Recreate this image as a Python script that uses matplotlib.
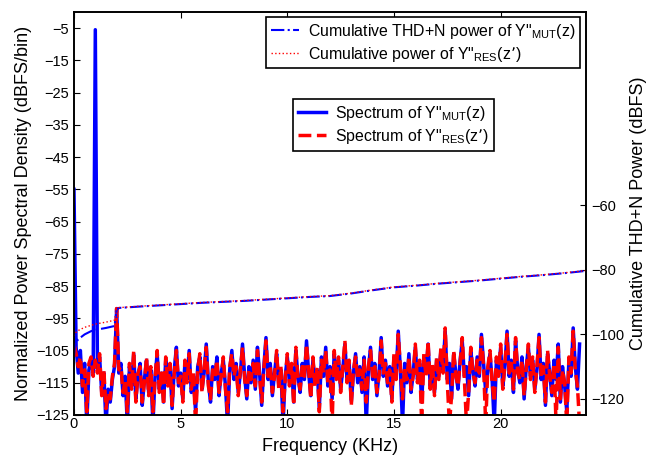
import matplotlib
matplotlib.use("Agg")
import matplotlib.pyplot as plt
import numpy as np

plt.rcParams['font.family'] = ['Liberation Sans', 'DejaVu Sans']
plt.rcParams['mathtext.default'] = 'regular'

# frequency bins (kHz), 0.1 kHz spacing
freq = np.round(np.arange(238) * 0.1, 1)

# spectrum of Y"_MUT(z), dBFS/bin
spec_mut = [
    -55, -104, -112, -105, -118, -109, -128, -111, -108, -112,
    -5.5, -111, -107, -118, -112, -128, -117, -121, -114, -110,
    -92, -112, -109, -119, -113, -128, -110, -116, -106, -120,
    -113, -109, -122, -114, -108, -118, -111, -128, -113, -106,
    -117, -112, -121, -108, -115, -110, -123, -111, -104, -116,
    -112, -120, -109, -114, -105, -118, -113, -124, -110, -107,
    -117, -112, -103, -115, -121, -110, -114, -107, -119, -112,
    -108, -116, -128, -111, -105, -114, -109, -118, -112, -103,
    -113, -120, -110, -115, -108, -117, -104, -112, -122, -110,
    -101, -114, -109, -119, -112, -106, -116, -111, -128, -113,
    -107, -115, -110, -121, -105, -113, -118, -109, -114, -102,
    -112, -119, -108, -115, -111, -123, -107, -113, -104, -116,
    -110, -120, -106, -113, -108, -117, -111, -103, -114, -109,
    -121, -112, -106, -115, -110, -118, -107, -128, -111, -104,
    -114, -109, -119, -112, -101, -113, -108, -116, -110, -120,
    -107, -113, -99, -111, -128, -109, -115, -106, -118, -112,
    -104, -114, -109, -121, -107, -112, -103, -116, -110, -118,
    -108, -113, -105, -111, -99, -114, -109, -120, -106, -112,
    -117, -108, -102, -113, -110, -119, -105, -111, -116, -107,
    -113, -100, -109, -118, -111, -106, -114, -128, -108, -112,
    -104, -116, -110, -99, -113, -108, -118, -102, -111, -115,
    -107, -120, -110, -104, -113, -108, -117, -111, -100, -114,
    -109, -122, -106, -112, -119, -108, -114, -103, -121, -110,
    -116, -124, -108, -113, -98, -110, -117, -103,
]

# spectrum of Y"_RES(z'), dBFS/bin
spec_res = [
    -103, -106, -110, -107, -116, -111, -124, -109, -107, -113,
    -108, -112, -106, -119, -111, -123, -118, -120, -113, -109,
    -92, -111, -110, -118, -114, -124, -109, -117, -105, -121,
    -112, -110, -121, -115, -107, -119, -110, -124, -114, -105,
    -118, -111, -122, -107, -116, -109, -122, -112, -105, -115,
    -113, -121, -108, -115, -106, -117, -112, -128, -111, -106,
    -118, -111, -104, -116, -120, -111, -113, -108, -118, -113,
    -107, -117, -124, -110, -106, -113, -110, -119, -111, -104,
    -114, -119, -111, -114, -109, -116, -105, -113, -121, -111,
    -102, -113, -110, -118, -113, -105, -117, -110, -124, -114,
    -106, -116, -109, -122, -104, -114, -117, -110, -113, -103,
    -111, -120, -107, -116, -110, -124, -108, -112, -105, -115,
    -111, -128, -105, -114, -107, -118, -110, -102, -115, -108,
    -122, -111, -107, -114, -111, -117, -108, -121, -110, -105,
    -113, -110, -118, -113, -102, -112, -109, -115, -111, -121,
    -106, -114, -100, -110, -120, -110, -114, -107, -117, -113,
    -103, -115, -108, -128, -106, -113, -102, -117, -109, -119,
    -107, -114, -104, -112, -98, -115, -128, -119, -105, -113,
    -116, -109, -101, -114, -128, -118, -104, -112, -115, -108,
    -112, -101, -110, -128, -110, -105, -115, -121, -107, -113,
    -103, -117, -109, -100, -112, -109, -117, -101, -112, -114,
    -108, -119, -111, -103, -114, -107, -118, -110, -101, -113,
    -110, -121, -105, -113, -118, -109, -128, -104, -120, -111,
    -115, -128, -107, -112, -99, -111, -116, -128,
]

# cumulative THD+N power (dBFS)
cum_freq = [0.0, 0.05, 0.2, 0.5, 0.8, 1.0, 1.5, 1.9, 2.0, 2.1, 3, 4, 5, 6, 7, 8,
            9, 10, 11, 12, 13, 14, 15, 16, 17, 18, 19, 20, 21, 22, 23, 24]
cum_mut = [-107, -103, -101.5, -100, -99, -98.6, -98, -97.4, -92.5, -91.8, -91.4,
           -91, -90.6, -90.2, -89.9, -89.6, -89.2, -88.8, -88.4, -88.1, -87.3,
           -86.3, -85.4, -84.9, -84.3, -83.8, -83.3, -82.7, -82.1, -81.6, -81.0,
           -80.3]
cum_res = [-100.5, -99.6, -98.8, -97.8, -97.2, -96.8, -96.2, -95.6, -92.2, -91.7,
           -91.3, -90.9, -90.5, -90.1, -89.8, -89.5, -89.1, -88.7, -88.3, -88.0,
           -87.2, -86.2, -85.3, -84.8, -84.2, -83.7, -83.2, -82.6, -82.0, -81.5,
           -80.9, -80.2]

fig = plt.figure(figsize=(6.57, 4.61), dpi=100)
ax = fig.add_axes([0.1126, 0.0998, 0.7793, 0.8742])

l1, = ax.plot(freq, spec_mut, color='blue', lw=2.5)
l2, = ax.plot(freq, spec_res, color='red', lw=2.5, ls='--')
ax.set_xlim(0, 24)
ax.set_ylim(-125, 0)
ax.set_xticks([0, 5, 10, 15, 20])
ax.set_yticks(np.arange(-125, 0, 10))
ax.tick_params(direction='in', top=True, right=True, labelsize=10.5, length=4)
ax.tick_params(axis='x', pad=1.5)
ax.set_xlabel('Frequency (KHz)', fontsize=13, labelpad=5)
ax.set_ylabel('Normalized Power Spectral Density (dBFS/bin)', fontsize=13, labelpad=3)

ax2 = ax.twinx()
l3, = ax2.plot(cum_freq, cum_mut, color='blue', lw=1.5, ls='-.')
l4, = ax2.plot(cum_freq, cum_res, color='red', lw=1.0, ls=':')
ax2.set_ylim(-125, 0)
ax2.set_yticks([-120, -100, -80, -60])
ax2.tick_params(direction='in', labelsize=10.5, length=4)
ax2.set_ylabel('Cumulative THD+N Power (dBFS)', fontsize=13, labelpad=4)

for a in (ax, ax2):
    for s in a.spines.values():
        s.set_linewidth(1.2)

legkw = dict(fontsize=11.4, frameon=True, fancybox=False, edgecolor='black',
             framealpha=1, handlelength=1.8, handletextpad=0.55,
             borderpad=0.3, labelspacing=0.25, borderaxespad=0,
             bbox_transform=fig.transFigure)
leg1 = fig.legend(handles=[l3, l4],
                  labels=['Cumulative THD+N power of Y"$_{MUT}$(z)',
                          'Cumulative power of Y"$_{RES}$(z\u2019)'],
                  loc='upper right', bbox_to_anchor=(0.8828, 0.9631), **legkw)
leg2 = fig.legend(handles=[l1, l2],
                  labels=['Spectrum of Y"$_{MUT}$(z)',
                          'Spectrum of Y"$_{RES}$(z\u2019)'],
                  loc='upper left', bbox_to_anchor=(0.446, 0.785), **legkw)
for lg in (leg1, leg2):
    lg.get_frame().set_linewidth(1.2)

fig.savefig('out.png', dpi=100)
